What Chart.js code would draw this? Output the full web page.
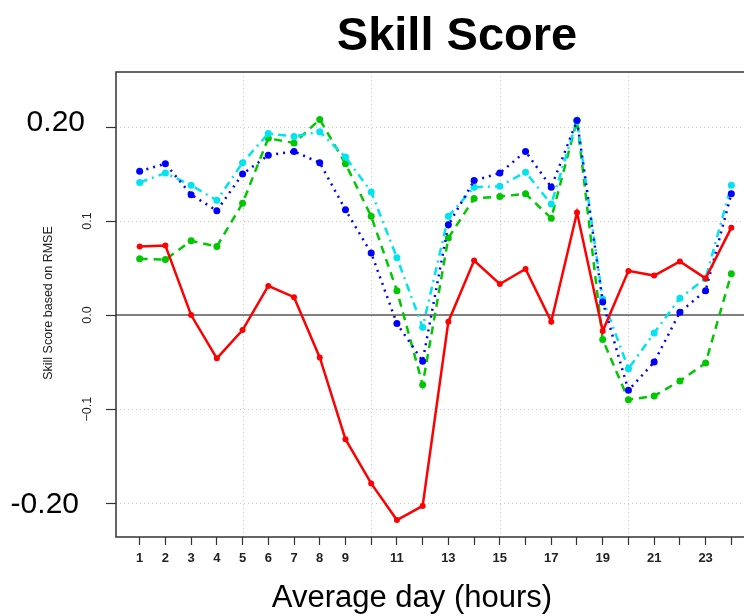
<!DOCTYPE html>
<html>
<head>
<meta charset="utf-8">
<script src="https://cdn.jsdelivr.net/npm/chart.js@4"></script>
<style>
    html, body { margin: 0; padding: 0; background: #fff; }
    #wrap { width: 744px; height: 616px; overflow: hidden; }
</style>
</head>
<body>
<div id="wrap"><canvas id="chart" width="760" height="616"></canvas></div>
<script>
const hours = [1, 2, 3, 4, 5, 6, 7, 8, 9, 10, 11, 12, 13, 14, 15, 16, 17, 18, 19, 20, 21, 22, 23, 24];
const labelledHours = [1, 2, 3, 4, 5, 6, 7, 8, 9, 11, 13, 15, 17, 19, 21, 23];
const gridHours = [5, 10, 15, 20];
const yTicks = [-0.2, -0.1, 0, 0.1, 0.2];
const smallYLabels = { '0.1': '0.1', '0': '0.0', '-0.1': '\u22120.1' };
const bigYLabels = { '0.2': '0.20', '-0.2': '-0.20' };

const redScores   = [0.073, 0.074, 0.000, -0.046, -0.016, 0.031, 0.019, -0.045, -0.132, -0.179, -0.218, -0.203,
                     -0.007, 0.058, 0.033, 0.049, -0.007, 0.109, -0.017, 0.047, 0.042, 0.057, 0.039, 0.093];
const blueScores  = [0.153, 0.161, 0.128, 0.111, 0.150, 0.170, 0.174, 0.162, 0.112, 0.066, -0.009, -0.049,
                     0.096, 0.143, 0.151, 0.174, 0.136, 0.207, 0.014, -0.080, -0.050, 0.003, 0.026, 0.129];
const cyanScores  = [0.141, 0.151, 0.138, 0.122, 0.162, 0.193, 0.190, 0.195, 0.168, 0.131, 0.061, -0.013,
                     0.105, 0.136, 0.137, 0.152, 0.118, 0.207, 0.017, -0.057, -0.019, 0.018, 0.039, 0.138];
const greenScores = [0.060, 0.059, 0.079, 0.073, 0.119, 0.188, 0.183, 0.208, 0.161, 0.105, 0.026, -0.074,
                     0.082, 0.124, 0.126, 0.129, 0.103, 0.207, -0.026, -0.090, -0.086, -0.070, -0.051, 0.044];

const FONT = '"Liberation Sans", Arial, Helvetica, sans-serif';

function toPoints(vals) {
    return hours.map((h, i) => ({ x: h, y: vals[i] }));
}

function series(vals, color, dash, width, radius) {
    return {
        data: toPoints(vals),
        borderColor: color,
        backgroundColor: color,
        borderWidth: width,
        borderDash: dash,
        pointRadius: radius,
        pointBorderWidth: 0,
        pointBackgroundColor: color,
        tension: 0
    };
}

// frame, dotted grid and zero line under the data
const backdrop = {
    id: 'backdrop',
    beforeDatasetsDraw(chart) {
        const { ctx, chartArea: a, scales: { x, y } } = chart;
        ctx.save();
        ctx.strokeStyle = '#c8c8c8';
        ctx.lineWidth = 1;
        ctx.setLineDash([1, 3]);
        gridHours.forEach(h => {
            const px = Math.round(x.getPixelForValue(h)) + 0.5;
            ctx.beginPath(); ctx.moveTo(px, a.top); ctx.lineTo(px, a.bottom); ctx.stroke();
        });
        yTicks.filter(v => v !== 0).forEach(v => {
            const py = Math.round(y.getPixelForValue(v)) + 0.5;
            ctx.beginPath(); ctx.moveTo(a.left, py); ctx.lineTo(a.right, py); ctx.stroke();
        });
        ctx.setLineDash([]);
        ctx.strokeStyle = '#555';
        ctx.lineWidth = 1.5;
        const zy = y.getPixelForValue(0);
        ctx.beginPath(); ctx.moveTo(a.left, zy); ctx.lineTo(a.right + 10, zy); ctx.stroke();
        ctx.strokeStyle = '#333';
        ctx.lineWidth = 1.5;
        ctx.strokeRect(a.left, a.top, a.right - a.left, a.bottom - a.top);
        ctx.restore();
    }
};

// titles and y labels
const texts = {
    id: 'texts',
    afterDraw(chart) {
        const { ctx, scales: { y } } = chart;
        ctx.save();
        ctx.fillStyle = '#000';
        ctx.textAlign = 'center';
        ctx.textBaseline = 'alphabetic';
        ctx.font = 'bold 47px ' + FONT;
        ctx.fillText('Skill Score', 457, 50);
        ctx.font = '31px ' + FONT;
        ctx.fillText('Average day (hours)', 412, 607);

        ctx.textBaseline = 'middle';
        ctx.font = '12.5px ' + FONT;
        ctx.fillStyle = '#222';
        yTicks.forEach(v => {
            const key = String(v);
            const py = y.getPixelForValue(v);
            if (smallYLabels[key]) {
                ctx.save();
                ctx.translate(88, py);
                ctx.rotate(-Math.PI / 2);
                ctx.textAlign = 'center';
                ctx.fillText(smallYLabels[key], 0, 0);
                ctx.restore();
            }
        });
        ctx.fillStyle = '#000';
        ctx.font = '30px ' + FONT;
        ctx.textAlign = 'right';
        ctx.textBaseline = 'alphabetic';
        ctx.fillText(bigYLabels['0.2'], 85, y.getPixelForValue(0.2) + 4);
        ctx.fillText(bigYLabels['-0.2'], 79, y.getPixelForValue(-0.2) + 10);

        ctx.save();
        ctx.translate(49, 303);
        ctx.rotate(-Math.PI / 2);
        ctx.textAlign = 'center';
        ctx.textBaseline = 'middle';
        ctx.font = '12.5px ' + FONT;
        ctx.fillStyle = '#222';
        ctx.fillText('Skill Score based on RMSE', 0, 0);
        ctx.restore();
        ctx.restore();
    }
};

new Chart(document.getElementById('chart'), {
    type: 'line',
    data: {
        datasets: [
            series(redScores, '#ff0000', [], 2.5, 3),
            series(blueScores, '#0000ff', [2, 5], 2.5, 3.5),
            series(cyanScores, '#00e4f0', [8, 5, 2, 5], 2.5, 3.5),
            series(greenScores, '#00c800', [8, 6], 2.5, 3.5)
        ]
    },
    options: {
        responsive: false,
        animation: false,
        devicePixelRatio: 1,
        layout: { padding: { top: 72, right: 5, left: 0, bottom: 0 } },
        plugins: { legend: { display: false }, tooltip: { enabled: false } },
        scales: {
            x: {
                type: 'linear',
                min: 0.08,
                max: 24.92,
                afterBuildTicks: s => { s.ticks = hours.map(v => ({ value: v })); },
                afterFit: s => { s.height = 79; },
                border: { display: false },
                grid: { drawOnChartArea: false, tickLength: 8, tickColor: '#333', tickWidth: 1.2 },
                ticks: {
                    autoSkip: false,
                    maxRotation: 0,
                    padding: 6,
                    color: '#222',
                    font: { family: FONT, size: 13, weight: 'bold' },
                    callback: v => labelledHours.includes(v) ? String(v) : ''
                }
            },
            y: {
                min: -0.236,
                max: 0.2585,
                afterBuildTicks: s => { s.ticks = yTicks.map(v => ({ value: v })); },
                afterFit: s => { s.width = 116; },
                border: { display: false },
                grid: { drawOnChartArea: false, tickLength: 10, tickColor: '#333', tickWidth: 1.2 },
                ticks: { display: false }
            }
        }
    },
    plugins: [backdrop, texts]
});
</script>
</body>
</html>
